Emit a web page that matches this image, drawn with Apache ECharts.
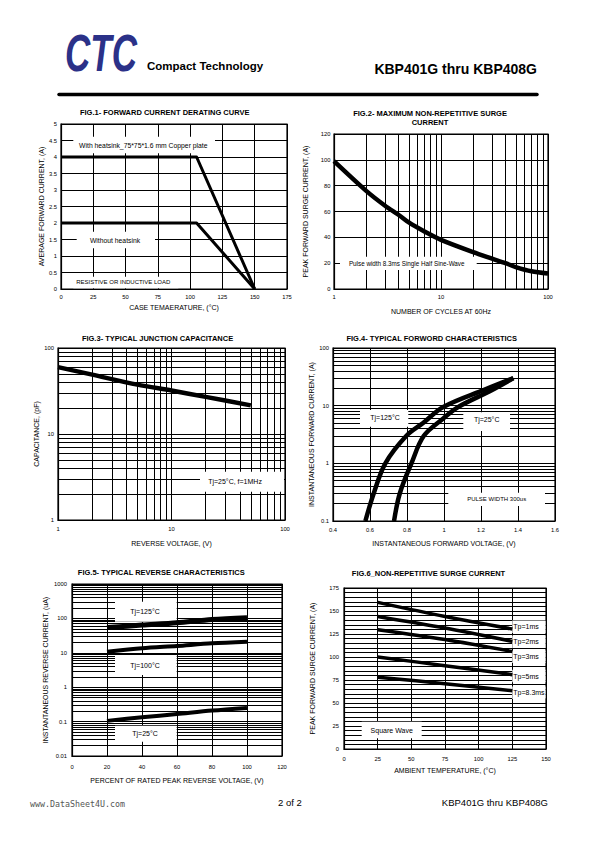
<!DOCTYPE html>
<html><head><meta charset="utf-8">
<script src="https://cdn.jsdelivr.net/npm/echarts@6/dist/echarts.min.js"></script>
<style>html,body{margin:0;padding:0;background:#fff}#c{width:595px;height:842px}</style>
</head><body><div id="c"></div>
<script>
// ---------- DATA ----------
// FIG.1 Forward current derating
const fig1Temp = [0, 105, 150];
const fig1WithHeatsink = [4, 4, 0];
const fig1WithoutHeatsink = [2, 2, 0];
// FIG.2 Max non-repetitive surge current
const fig2Cycles = [1, 2, 3, 4, 5, 7, 10, 20, 30, 40, 50, 70, 100];
const fig2Current = [99, 76, 64.5, 57.5, 51.5, 44.5, 38, 28.5, 23.5, 20, 17, 13.7, 12];
// FIG.3 Junction capacitance
const fig3Voltage = [1, 2, 5, 10, 20, 50];
const fig3Capacitance = [60, 49, 37.5, 32, 27, 21.5];
// FIG.4 Forward characteristics
const fig4Voltage125 = [0.575, 0.62, 0.683, 0.797, 0.887, 0.996, 1.22, 1.375];
const fig4Current125 = [0.1, 0.3, 1, 3, 5, 9.5, 19, 30];
const fig4Voltage25 = [0.73, 0.761, 0.824, 0.891, 0.996, 1.077, 1.25, 1.375];
const fig4Current25 = [0.1, 0.3, 1, 3, 6, 9.5, 18, 30];
// FIG.5 Reverse characteristics
const fig5Percent = [20, 40, 60, 80, 100];
const fig5Tj125 = [54, 64, 75, 93, 105];
const fig5Tj100 = [10.8, 13.5, 15.8, 18.8, 21];
const fig5Tj25 = [0.105, 0.133, 0.166, 0.209, 0.25];
// FIG.6 Non-repetitive surge current vs temperature
const fig6Temp = [25, 75, 125];
const fig6Tp1 = [159.4, 144, 130.4];
const fig6Tp2 = [144, 131.5, 117];
const fig6Tp3 = [129.7, 119, 106];
const fig6Tp5 = [100, 90.6, 80.8];
const fig6Tp83 = [78, 71, 63.4];
// ---------------------------

const FONT = 'Liberation Sans, Arial, sans-serif';
const zip = (a, b) => a.map((v, i) => [v, b[i]]);
function logMinors(min, max) {
  const out = [];
  for (let d = min; d < max * 0.999; d *= 10)
    for (let k = 2; k <= 9; k++) out.push(+(k * d).toPrecision(3));
  return out;
}
const plainNum = v => String(+(+v).toPrecision(6));
const gridBase = { show: true, borderColor: '#000', borderWidth: 1.2, backgroundColor: 'transparent' };
function axis(extra) {
  const base = {
    axisLine: { show: true, lineStyle: { color: '#000', width: 1.2 } },
    axisTick: { show: false },
    axisLabel: { color: '#000', fontSize: 5.8, fontFamily: FONT, formatter: plainNum },
    splitLine: { show: true, lineStyle: { color: '#000', width: 1 } },
    nameLocation: 'middle',
    nameTextStyle: { color: '#000', fontSize: 7, fontFamily: FONT }
  };
  const o = Object.assign({}, base, extra);
  o.axisLabel = Object.assign({}, base.axisLabel, extra.axisLabel || {});
  return o;
}
function minorGrid(idx, dim, values) {
  return {
    type: 'line', xAxisIndex: idx, yAxisIndex: idx, data: [], silent: true, animation: false,
    markLine: {
      silent: true, symbol: ['none', 'none'], z: 1, animation: false,
      label: { show: false }, emphasis: { disabled: true },
      lineStyle: { color: '#000', width: 1, type: 'solid' },
      data: values.map(v => ({ [dim]: v }))
    }
  };
}
function curve(idx, data, width, smooth) {
  return {
    type: 'line', xAxisIndex: idx, yAxisIndex: idx, data: data, symbol: 'none', showSymbol: false,
    smooth: smooth, z: 5, silent: true, animation: false,
    lineStyle: { color: '#000', width: width, cap: 'butt', join: 'round' }
  };
}
function box(x, y, w, h) {
  return { type: 'rect', shape: { x: x, y: y, width: w, height: h }, style: { fill: '#fff' }, z: 3, silent: true };
}
function txt(x, y, text, size, opts) {
  opts = opts || {};
  return {
    type: 'text', x: x, y: y, z: 4, silent: true,
    style: Object.assign({ text: text, fontSize: size, fontFamily: FONT, fill: '#000', align: 'center', verticalAlign: 'middle' }, opts)
  };
}

const chart = echarts.init(document.getElementById('c'), null, { renderer: 'svg', width: 595, height: 842 });

const option = {
  animation: false,
  backgroundColor: '#fff',
  grid: [
    Object.assign({ left: 61, top: 124, width: 226, height: 165 }, gridBase),
    Object.assign({ left: 334, top: 134, width: 214, height: 155 }, gridBase),
    Object.assign({ left: 58, top: 348, width: 227, height: 172 }, gridBase),
    Object.assign({ left: 333, top: 348, width: 222, height: 173 }, gridBase),
    Object.assign({ left: 72, top: 584, width: 210, height: 172 }, gridBase),
    Object.assign({ left: 344, top: 588, width: 202, height: 161 }, gridBase)
  ],
  xAxis: [
    axis({ gridIndex: 0, type: 'value', min: 0, max: 175, interval: 25, name: 'CASE TEMAERATURE, (°C)', nameGap: 14.5, axisLabel: { margin: 4.5 } }),
    axis({ gridIndex: 1, type: 'log', logBase: 10, min: 1, max: 100, name: 'NUMBER OF CYCLES AT 60Hz', nameGap: 18.5, axisLabel: { margin: 4.5 } }),
    axis({ gridIndex: 2, type: 'log', logBase: 10, min: 1, max: 100, name: 'REVERSE VOLTAGE, (V)', nameGap: 20, axisLabel: { margin: 5.5 } }),
    axis({ gridIndex: 3, type: 'value', min: 0.4, max: 1.6, interval: 0.2, name: 'INSTANTANEOUS FORWARD VOLTAGE, (V)', nameGap: 19, axisLabel: { margin: 5.5 } }),
    axis({ gridIndex: 4, type: 'value', min: 0, max: 120, interval: 20, name: 'PERCENT OF RATED PEAK REVERSE VOLTAGE, (V)', nameGap: 20.5, axisLabel: { margin: 7.5 } }),
    axis({ gridIndex: 5, type: 'value', min: 0, max: 150, interval: 25, name: 'AMBIENT TEMPERATURE, (°C)', nameGap: 17.5, axisLabel: { margin: 6.5 } })
  ],
  yAxis: [
    axis({ gridIndex: 0, type: 'value', min: 0, max: 5, interval: 0.5, name: 'AVERAGE FORWARD CURRENT, (A)', nameGap: 14.5, axisLabel: { margin: 4 } }),
    axis({ gridIndex: 1, type: 'value', min: 0, max: 120, interval: 20, name: 'PEAK FORWARD SURGE CURRENT, (A)', nameGap: 25, axisLabel: { margin: 3.5 } }),
    axis({ gridIndex: 2, type: 'log', logBase: 10, min: 1, max: 100, name: 'CAPACITANCE, (pF)', nameGap: 15, axisLabel: { margin: 4 } }),
    axis({ gridIndex: 3, type: 'log', logBase: 10, min: 0.1, max: 100, name: 'INSTANTANEOUS FORWARD CURRENT, (A)', nameGap: 18, axisLabel: { margin: 4 } }),
    axis({ gridIndex: 4, type: 'log', logBase: 10, min: 0.01, max: 1000, name: 'INSTANTANEOUS REVERSE CURRENT, (uA)', nameGap: 23, axisLabel: { margin: 5 } }),
    axis({ gridIndex: 5, type: 'value', min: 0, max: 175, interval: 25, name: 'PEAK FORWARD SURGE CURRENT, (A)', nameGap: 28, axisLabel: { margin: 5 },
      minorTick: { show: false, splitNumber: 5 }, minorSplitLine: { show: true, lineStyle: { color: '#000', width: 1 } } })
  ],
  series: [
    // minor log gridlines
    minorGrid(1, 'xAxis', logMinors(1, 100)),
    minorGrid(2, 'xAxis', logMinors(1, 100)),
    minorGrid(2, 'yAxis', logMinors(1, 100)),
    minorGrid(3, 'yAxis', logMinors(0.1, 100)),
    minorGrid(4, 'yAxis', logMinors(0.01, 1000)),
    // curves
    curve(0, zip(fig1Temp, fig1WithHeatsink), 3, false),
    curve(0, zip(fig1Temp, fig1WithoutHeatsink), 3, false),
    curve(1, zip(fig2Cycles, fig2Current), 4.5, 0.3),
    curve(2, zip(fig3Voltage, fig3Capacitance), 4.5, 0.3),
    curve(3, zip(fig4Voltage125, fig4Current125), 4.5, 0.35),
    curve(3, zip(fig4Voltage25, fig4Current25), 4.5, 0.35),
    curve(4, zip(fig5Percent, fig5Tj125), 5, 0.3),
    curve(4, zip(fig5Percent, fig5Tj100), 4, 0.3),
    curve(4, zip(fig5Percent, fig5Tj25), 4, 0.3),
    curve(5, zip(fig6Temp, fig6Tp1), 3.5, 0.3),
    curve(5, zip(fig6Temp, fig6Tp2), 3.5, 0.3),
    curve(5, zip(fig6Temp, fig6Tp3), 3.5, 0.3),
    curve(5, zip(fig6Temp, fig6Tp5), 3.5, 0.3),
    curve(5, zip(fig6Temp, fig6Tp83), 3.5, 0.3)
  ],
  graphic: [
    // header
    { type: 'text', x: 101, y: 53, z: 4, scaleX: 0.7, scaleY: 1.05, silent: true,
      style: { text: 'CTC', fontSize: 50, fontWeight: 900, fontStyle: 'italic', fontFamily: FONT, fill: '#2b3188', align: 'center', verticalAlign: 'middle' } },
    txt(147, 66, 'Compact Technology', 11.5, { fontWeight: 'bold', align: 'left' }),
    txt(537, 69, 'KBP401G thru KBP408G', 14, { fontWeight: 'bold', align: 'right' }),
    { type: 'line', shape: { x1: 59, y1: 94.5, x2: 537, y2: 94.5 }, style: { stroke: '#000', lineWidth: 3.5, lineCap: 'round' }, z: 4, silent: true },
    // titles
    txt(164.7, 112.7, 'FIG.1- FORWARD CURRENT DERATING CURVE', 7.5, { fontWeight: 'bold' }),
    txt(430, 113.3, 'FIG.2- MAXIMUM NON-REPETITIVE SURGE', 7.5, { fontWeight: 'bold' }),
    txt(430, 122.7, 'CURRENT', 7.5, { fontWeight: 'bold' }),
    txt(157.5, 338.3, 'FIG.3- TYPICAL JUNCTION CAPACITANCE', 7.5, { fontWeight: 'bold' }),
    txt(431.7, 338.3, 'FIG.4- TYPICAL FORWORD CHARACTERISTICS', 7.5, { fontWeight: 'bold' }),
    txt(161.3, 572.7, 'FIG.5- TYPICAL REVERSE CHARACTERISTICS', 7.5, { fontWeight: 'bold' }),
    txt(428.5, 573.3, 'FIG.6_NON-REPETITIVE SURGE CURRENT', 7.5, { fontWeight: 'bold' }),
    // fig1 annotations
    box(73.3, 136.7, 141.7, 16.6), txt(143.3, 145, 'With heatsink_75*75*1.6 mm Copper plate', 6.8),
    box(76.7, 231.7, 78.3, 16.6), txt(115, 240, 'Without heatsink', 6.8),
    box(73.3, 276.7, 105, 11.5), txt(123.3, 282, 'RESISTIVE OR INDUCTIVE LOAD', 6),
    // fig2
    box(340, 256.7, 136.7, 13.3), txt(406.7, 263.3, 'Pulse width 8.3ms Single Half Sine-Wave', 6.3),
    // fig3
    box(200, 471.7, 84, 20), txt(235, 481, 'Tj=25°C, f=1MHz', 7),
    // fig4
    box(360, 410, 48.3, 16.7), txt(385, 417.7, 'Tj=125°C', 7),
    box(463.3, 412.3, 46.7, 18.7), txt(486.7, 419, 'Tj=25°C', 7),
    box(448.3, 492.7, 96.7, 13.3), txt(496.7, 499.3, 'PULSE WIDTH 300us', 6),
    // fig5
    box(115, 601.7, 61.7, 20), txt(145, 611.7, 'Tj=125°C', 7),
    box(115, 655, 61.7, 20), txt(145, 665, 'Tj=100°C', 7),
    box(115, 725.7, 61.7, 16), txt(145, 733.3, 'Tj=25°C', 7),
    // fig6
    box(512.3, 620.5, 33.2, 12.5), txt(513.3, 626.7, 'Tp=1ms', 7, { align: 'left' }),
    box(512.3, 635.5, 33.2, 12.5), txt(513.3, 641.7, 'Tp=2ms', 7, { align: 'left' }),
    box(512.3, 650.5, 33.2, 12.5), txt(513.3, 656.7, 'Tp=3ms', 7, { align: 'left' }),
    box(512.3, 669.8, 33.2, 12.5), txt(513.3, 676, 'Tp=5ms', 7, { align: 'left' }),
    box(512.3, 686.5, 33.2, 12.5), txt(513.3, 692.7, 'Tp=8.3ms', 7, { align: 'left' }),
    box(361.7, 721.7, 60, 16.6), txt(391.7, 730, 'Square Wave', 7),
    // footer
    txt(30, 804, 'www.DataSheet4U.com', 8.3, { align: 'left', fill: '#555', fontFamily: 'DejaVu Sans Mono, Liberation Mono, monospace' }),
    txt(278, 802, '2 of 2', 9.5, { align: 'left' }),
    txt(548, 802, 'KBP401G thru KBP408G', 9.5, { align: 'right' })
  ]
};
chart.setOption(option);
</script>
</body></html>
